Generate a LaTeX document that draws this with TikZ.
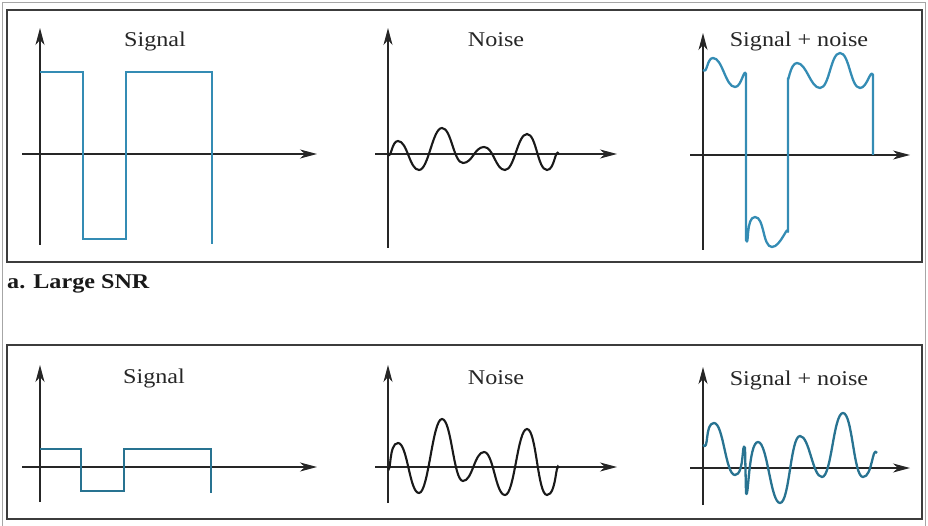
\documentclass[tikz,border=0pt]{standalone}
\usepackage{fontspec}
\setmainfont{Liberation Serif}
\newfontfamily\labfont[FakeStretch=1.15]{Liberation Serif}
\usetikzlibrary{arrows.meta}
\definecolor{sigtop}{RGB}{52,140,180}
\definecolor{sigbot}{RGB}{40,115,145}
\definecolor{framegray}{RGB}{60,60,60}
\tikzset{
  panel/.style={draw=framegray, line width=1.5pt},
  axis/.style={draw=black!85, line width=1.1pt, -{Stealth[length=17pt,width=9pt,inset=5pt]}},
  sigline/.style={line width=2.3pt, line join=miter},
  noiseline/.style={draw=black!90, line width=2.1pt},
  wv/.style={out=0,in=180,max distance=9.5pt},
  plotlabel/.style={font=\labfont\fontsize{21}{23}\selectfont, anchor=base, text=black!85},
  caplabel/.style={font=\labfont\bfseries\fontsize{21}{23}\selectfont, anchor=base west, text=black!90, inner sep=0pt}
}
\begin{document}
\begin{tikzpicture}[x=1pt,y=-1pt]
\useasboundingbox (0,0) rectangle (928,526);
% outer scan border
\draw[black!35, line width=1pt] (2.5,526) -- (2.5,2.5) -- (925.5,2.5) -- (925.5,526);
% panels
\draw[panel] (7,10) rectangle (922,262);
\draw[panel] (7,345) rectangle (922,519);
\node[caplabel] (cap) at (7,289) {a. Large SNR};

% ---------- top panel ----------
\coordinate (t1y0) at (40,245);  \coordinate (t1y1) at (40,28);
\coordinate (t1x0) at (22,154);  \coordinate (t1x1) at (317,154);
\coordinate (t2y0) at (388,248); \coordinate (t2y1) at (388,28);
\coordinate (t2x0) at (375,154); \coordinate (t2x1) at (617,154);
\coordinate (t3y0) at (703,250); \coordinate (t3y1) at (703,33);
\coordinate (t3x0) at (690,155); \coordinate (t3x1) at (910,155);
\draw[axis] (t1y0) -- (t1y1);
\draw[axis] (t1x0) -- (t1x1);
\draw[axis] (t2y0) -- (t2y1);
\draw[axis] (t2x0) -- (t2x1);
\draw[axis] (t3y0) -- (t3y1);
\draw[axis] (t3x0) -- (t3x1);
\node[plotlabel] (l1) at (155,47) {Signal};
\node[plotlabel] (l2) at (496,47) {Noise};
\node[plotlabel] (l3) at (799,47) {Signal + noise};

% signal
\draw[sigline, draw=sigtop] (40,72) -- (83,72) -- (83,239) -- (126,239) -- (126,72) -- (212,72) -- (212,244);
% noise
\draw[noiseline] (388,154) to[wv,out=-60] (398,141) to[wv] (419,170)
  to[wv] (442,128) to[wv] (463,163) to[wv] (484,147)
  to[wv] (505,170) to[wv] (527,134) to[wv] (547,170)
  to[wv,in=120] (559,154);
% signal + noise
\draw[sigline, draw=sigtop, line join=round] (703,70) to[wv,out=-45] (713,58) to[wv] (735,87)
  to[wv,in=110] (746,74) -- (746,240) to[wv,out=-70] (755,217) to[wv] (772,247)
  to[wv,in=90] (788,232) -- (788,78) to[wv,out=-90] (797,63) to[wv] (820,88)
  to[wv] (840,53) to[wv] (860,88) to[wv,in=110] (873,75) -- (873,155);

% ---------- bottom panel ----------
\coordinate (b1y0) at (40,502);  \coordinate (b1y1) at (40,365);
\coordinate (b1x0) at (22,467);  \coordinate (b1x1) at (317,467);
\coordinate (b2y0) at (388,503); \coordinate (b2y1) at (388,365);
\coordinate (b2x0) at (375,467); \coordinate (b2x1) at (617,467);
\coordinate (b3y0) at (703,505); \coordinate (b3y1) at (703,367);
\coordinate (b3x0) at (690,468); \coordinate (b3x1) at (910,468);
\draw[axis] (b1y0) -- (b1y1);
\draw[axis] (b1x0) -- (b1x1);
\draw[axis] (b2y0) -- (b2y1);
\draw[axis] (b2x0) -- (b2x1);
\draw[axis] (b3y0) -- (b3y1);
\draw[axis] (b3x0) -- (b3x1);
\node[plotlabel] (m1) at (154,383) {Signal};
\node[plotlabel] (m2) at (496,384) {Noise};
\node[plotlabel] (m3) at (799,385) {Signal + noise};

\draw[sigline, draw=sigbot] (40,449) -- (81,449) -- (81,491) -- (124,491) -- (124,449) -- (211,449) -- (211,493);
\draw[noiseline] (388,467) to[wv,out=-70] (398,443) to[wv] (419,493)
  to[wv] (442,419) to[wv] (463,481) to[wv] (484,452)
  to[wv] (505,495) to[wv] (527,429) to[wv] (547,495)
  to[wv,in=110] (559,468);
\draw[sigline, draw=sigbot, line join=round] (703,445) to[wv,out=-50] (714,423) to[wv] (735,475)
  to[wv,in=110] (745,448) -- (746,493) to[wv,out=-75] (758,442) to[wv] (780,503)
  to[wv] (800,436) to[wv] (822,477) to[wv] (843,413)
  to[wv] (863,477) to[wv,in=120] (877,453);
\end{tikzpicture}
\end{document}
